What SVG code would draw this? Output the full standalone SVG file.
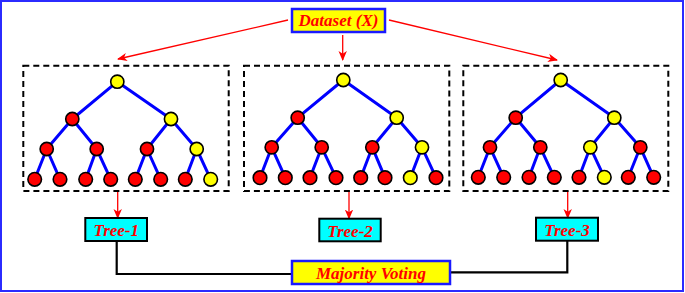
<svg xmlns="http://www.w3.org/2000/svg" width="685" height="293" viewBox="0 0 685 293">
<style>
.frame{fill:#fff;stroke:#2b2bff;stroke-width:2}
.dash{fill:none;stroke:#000;stroke-width:2;stroke-dasharray:6 4}
.e{stroke:#0000ff;stroke-width:3;stroke-linecap:round}
.r{fill:#ff0000;stroke:#000;stroke-width:1.6}
.y{fill:#ffff00;stroke:#000;stroke-width:1.6}
.arr{stroke:#ff0000;stroke-width:1.3;fill:none}
.blk{stroke:#000;stroke-width:2.2;fill:none}
.lbl{font-family:"Liberation Serif","Times New Roman",serif;font-weight:bold;font-style:italic;font-size:17px;fill:#ff0000;text-anchor:middle}
.ybox{fill:#ffff00;stroke:#1a1aff;stroke-width:2.5}
.cbox{fill:#00ffff;stroke:#000;stroke-width:2}
</style>
<defs>
<marker id="ah" markerWidth="10" markerHeight="10" viewBox="0 0 10 10" refX="9" refY="5" orient="auto" markerUnits="userSpaceOnUse">
<path d="M0,0.8 L10,5 L0,9.2 L2.8,5 Z" fill="#ff0000"/>
</marker>
</defs>
<rect class="frame" x="1" y="1" width="682" height="290"/>

<g id="connectors">
<line class="arr" x1="288" y1="20" x2="118" y2="59" marker-end="url(#ah)"/>
<line class="arr" x1="342.7" y1="35" x2="342.7" y2="60" marker-end="url(#ah)"/>
<line class="arr" x1="389" y1="20" x2="557" y2="60" marker-end="url(#ah)"/>
<line class="arr" x1="117.7" y1="191" x2="117.7" y2="218" marker-end="url(#ah)"/>
<line class="arr" x1="349" y1="191" x2="349" y2="218.5" marker-end="url(#ah)"/>
<line class="arr" x1="567.7" y1="191" x2="567.7" y2="218" marker-end="url(#ah)"/>
<polyline class="blk" points="116.7,241 116.7,274 292,274"/>
<polyline class="blk" points="567.3,241 567.3,272.3 450,272.3"/>
</g>

<g id="dataset">
<rect class="ybox" x="292" y="9" width="93" height="23"/>
<text class="lbl" x="338.5" y="26">Dataset (X)</text>
</g>

<g id="tree1box">
<rect class="dash" x="23.3" y="65.7" width="205.4" height="125.3"/>
<g>
<line class="e" x1="117.3" y1="81.7" x2="72.3" y2="119"/>
<line class="e" x1="117.3" y1="81.7" x2="171" y2="119"/>
<line class="e" x1="72.3" y1="119" x2="46.7" y2="149"/>
<line class="e" x1="72.3" y1="119" x2="96.7" y2="149"/>
<line class="e" x1="171" y1="119" x2="147" y2="149"/>
<line class="e" x1="171" y1="119" x2="196.7" y2="149"/>
<line class="e" x1="46.7" y1="149" x2="34.7" y2="179.3"/>
<line class="e" x1="46.7" y1="149" x2="60" y2="179.3"/>
<line class="e" x1="96.7" y1="149" x2="85.7" y2="179.3"/>
<line class="e" x1="96.7" y1="149" x2="110.7" y2="179.3"/>
<line class="e" x1="147" y1="149" x2="135.3" y2="179.3"/>
<line class="e" x1="147" y1="149" x2="160.7" y2="179.3"/>
<line class="e" x1="196.7" y1="149" x2="185.3" y2="179.3"/>
<line class="e" x1="196.7" y1="149" x2="210.7" y2="179.3"/>
</g>
<circle class="y" cx="117.3" cy="81.7" r="6.6"/>
<circle class="r" cx="72.3" cy="119" r="6.6"/>
<circle class="y" cx="171" cy="119" r="6.6"/>
<circle class="r" cx="46.7" cy="149" r="6.6"/>
<circle class="r" cx="96.7" cy="149" r="6.6"/>
<circle class="r" cx="147" cy="149" r="6.6"/>
<circle class="y" cx="196.7" cy="149" r="6.6"/>
<circle class="r" cx="34.7" cy="179.3" r="6.8"/>
<circle class="r" cx="60" cy="179.3" r="6.8"/>
<circle class="r" cx="85.7" cy="179.3" r="6.8"/>
<circle class="r" cx="110.7" cy="179.3" r="6.8"/>
<circle class="r" cx="135.3" cy="179.3" r="6.8"/>
<circle class="r" cx="160.7" cy="179.3" r="6.8"/>
<circle class="r" cx="185.3" cy="179.3" r="6.8"/>
<circle class="y" cx="210.7" cy="179.3" r="6.8"/>
</g>

<g id="tree2box">
<rect class="dash" x="244" y="65.7" width="205.3" height="125.3"/>
<g>
<line class="e" x1="343.3" y1="80" x2="297.7" y2="117.7"/>
<line class="e" x1="343.3" y1="80" x2="396.7" y2="117.7"/>
<line class="e" x1="297.7" y1="117.7" x2="271.7" y2="147.3"/>
<line class="e" x1="297.7" y1="117.7" x2="321.7" y2="147.3"/>
<line class="e" x1="396.7" y1="117.7" x2="372.3" y2="147.3"/>
<line class="e" x1="396.7" y1="117.7" x2="422" y2="147.3"/>
<line class="e" x1="271.7" y1="147.3" x2="260" y2="177.7"/>
<line class="e" x1="271.7" y1="147.3" x2="285.3" y2="177.7"/>
<line class="e" x1="321.7" y1="147.3" x2="310" y2="177.7"/>
<line class="e" x1="321.7" y1="147.3" x2="336" y2="177.7"/>
<line class="e" x1="372.3" y1="147.3" x2="360.7" y2="177.7"/>
<line class="e" x1="372.3" y1="147.3" x2="385" y2="177.7"/>
<line class="e" x1="422" y1="147.3" x2="410.3" y2="177.7"/>
<line class="e" x1="422" y1="147.3" x2="436" y2="177.7"/>
</g>
<circle class="y" cx="343.3" cy="80" r="6.6"/>
<circle class="r" cx="297.7" cy="117.7" r="6.6"/>
<circle class="y" cx="396.7" cy="117.7" r="6.6"/>
<circle class="r" cx="271.7" cy="147.3" r="6.6"/>
<circle class="r" cx="321.7" cy="147.3" r="6.6"/>
<circle class="r" cx="372.3" cy="147.3" r="6.6"/>
<circle class="y" cx="422" cy="147.3" r="6.6"/>
<circle class="r" cx="260" cy="177.7" r="6.8"/>
<circle class="r" cx="285.3" cy="177.7" r="6.8"/>
<circle class="r" cx="310" cy="177.7" r="6.8"/>
<circle class="r" cx="336" cy="177.7" r="6.8"/>
<circle class="r" cx="360.7" cy="177.7" r="6.8"/>
<circle class="r" cx="385" cy="177.7" r="6.8"/>
<circle class="y" cx="410.3" cy="177.7" r="6.8"/>
<circle class="r" cx="436" cy="177.7" r="6.8"/>
</g>

<g id="tree3box">
<rect class="dash" x="463.3" y="65.7" width="205" height="125.3"/>
<g>
<line class="e" x1="560.7" y1="80" x2="515.7" y2="117.7"/>
<line class="e" x1="560.7" y1="80" x2="614.3" y2="117.7"/>
<line class="e" x1="515.7" y1="117.7" x2="490" y2="147.3"/>
<line class="e" x1="515.7" y1="117.7" x2="540.3" y2="147.3"/>
<line class="e" x1="614.3" y1="117.7" x2="590.3" y2="147.3"/>
<line class="e" x1="614.3" y1="117.7" x2="640.3" y2="147.3"/>
<line class="e" x1="490" y1="147.3" x2="478.3" y2="177.3"/>
<line class="e" x1="490" y1="147.3" x2="503.7" y2="177.3"/>
<line class="e" x1="540.3" y1="147.3" x2="529" y2="177.3"/>
<line class="e" x1="540.3" y1="147.3" x2="554.3" y2="177.3"/>
<line class="e" x1="590.3" y1="147.3" x2="579" y2="177.3"/>
<line class="e" x1="590.3" y1="147.3" x2="604.3" y2="177.3"/>
<line class="e" x1="640.3" y1="147.3" x2="628.3" y2="177.3"/>
<line class="e" x1="640.3" y1="147.3" x2="653.7" y2="177.3"/>
</g>
<circle class="y" cx="560.7" cy="80" r="6.6"/>
<circle class="r" cx="515.7" cy="117.7" r="6.6"/>
<circle class="y" cx="614.3" cy="117.7" r="6.6"/>
<circle class="r" cx="490" cy="147.3" r="6.6"/>
<circle class="r" cx="540.3" cy="147.3" r="6.6"/>
<circle class="y" cx="590.3" cy="147.3" r="6.6"/>
<circle class="r" cx="640.3" cy="147.3" r="6.6"/>
<circle class="r" cx="478.3" cy="177.3" r="6.8"/>
<circle class="r" cx="503.7" cy="177.3" r="6.8"/>
<circle class="r" cx="529" cy="177.3" r="6.8"/>
<circle class="r" cx="554.3" cy="177.3" r="6.8"/>
<circle class="r" cx="579" cy="177.3" r="6.8"/>
<circle class="y" cx="604.3" cy="177.3" r="6.8"/>
<circle class="r" cx="628.3" cy="177.3" r="6.8"/>
<circle class="r" cx="653.7" cy="177.3" r="6.8"/>
</g>

<g id="tree1">
<rect class="cbox" x="85.3" y="218" width="61.7" height="23"/>
<text class="lbl" x="116.2" y="236">Tree-1</text>
</g>
<g id="tree2">
<rect class="cbox" x="319.3" y="218.7" width="61.4" height="22.6"/>
<text class="lbl" x="350" y="236.5">Tree-2</text>
</g>
<g id="tree3">
<rect class="cbox" x="536" y="217.7" width="62" height="23"/>
<text class="lbl" x="567" y="235.5">Tree-3</text>
</g>
<g id="majority">
<rect class="ybox" x="292" y="261" width="158" height="23"/>
<text class="lbl" x="371" y="278.5">Majority Voting</text>
</g>
</svg>
